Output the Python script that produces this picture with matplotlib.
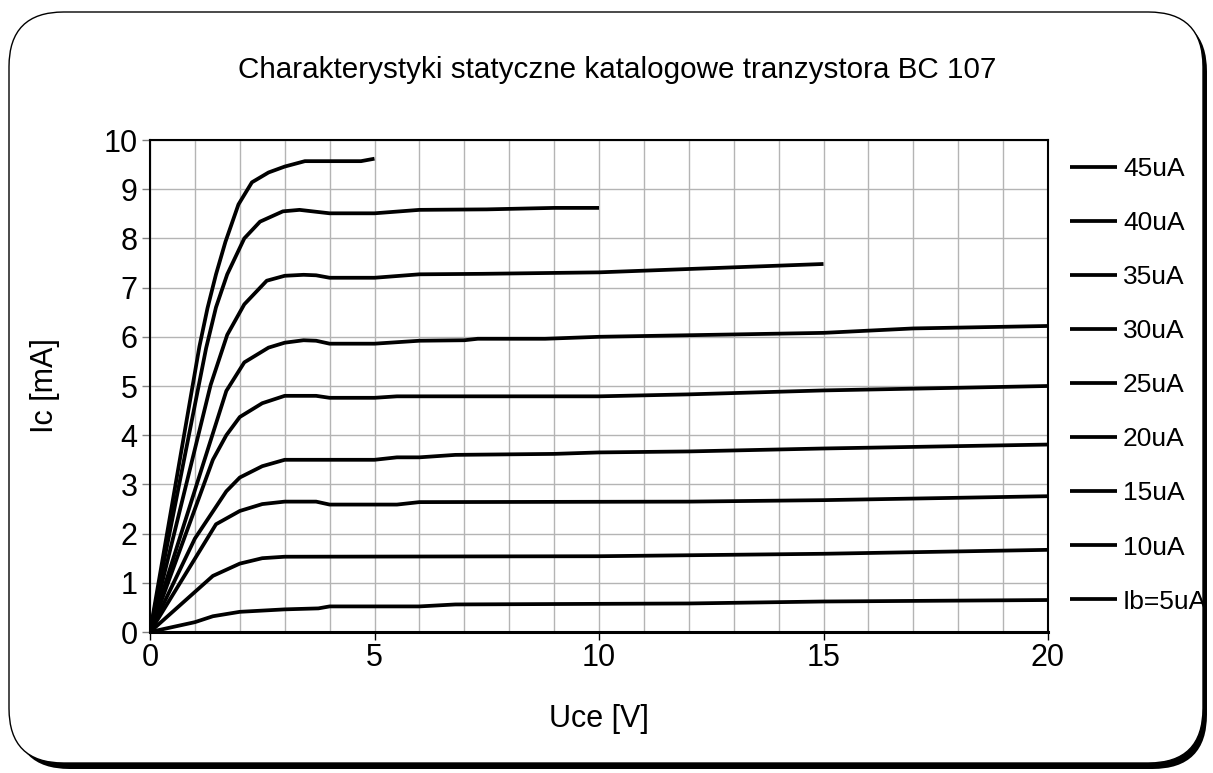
import matplotlib
matplotlib.use("Agg")
import matplotlib.pyplot as plt
from matplotlib.patches import FancyBboxPatch

plt.rcParams['font.family'] = ['Liberation Sans', 'DejaVu Sans']

# ---- data (Uce [V], Ic [mA]) ----
U45 = [0, 1.1, 1.28, 1.47, 1.68, 1.97, 2.27, 2.64, 3.0, 3.45, 4.7, 5.0]
I45 = [0, 5.8, 6.58, 7.27, 7.93, 8.69, 9.14, 9.34, 9.46, 9.57, 9.57, 9.62]

U40 = [0, 1.25, 1.47, 1.72, 2.1, 2.45, 2.96, 3.33, 4.0, 5.0, 6.0, 7.5, 9.0, 10.0]
I40 = [0, 5.77, 6.6, 7.27, 8.0, 8.34, 8.55, 8.58, 8.51, 8.51, 8.58, 8.59, 8.62, 8.62]

U35 = [0, 1.35, 1.72, 2.1, 2.6, 3.0, 3.42, 3.7, 4.0, 5.0, 6.0, 7.4, 10.0, 15.0]
I35 = [0, 5.02, 6.04, 6.66, 7.14, 7.24, 7.26, 7.25, 7.2, 7.2, 7.27, 7.28, 7.31, 7.48]

U30 = [0, 1.7, 2.1, 2.64, 3.0, 3.42, 3.7, 4.0, 5.0, 6.0, 7.0, 7.3, 8.8, 10.0, 15.0, 17.0, 20.0]
I30 = [0, 4.9, 5.48, 5.78, 5.88, 5.93, 5.92, 5.86, 5.86, 5.92, 5.93, 5.96, 5.96, 6.0, 6.08, 6.17, 6.22]

U25 = [0, 1.4, 1.7, 2.0, 2.5, 3.0, 3.7, 4.0, 5.0, 5.5, 10.0, 12.0, 15.0, 20.0]
I25 = [0, 3.5, 4.0, 4.37, 4.65, 4.8, 4.8, 4.76, 4.76, 4.79, 4.79, 4.83, 4.91, 5.0]

U20 = [0, 1.0, 1.7, 2.0, 2.5, 3.0, 5.0, 5.5, 6.0, 6.8, 9.0, 10.0, 12.0, 15.0, 20.0]
I20 = [0, 1.9, 2.86, 3.14, 3.37, 3.5, 3.5, 3.55, 3.55, 3.6, 3.62, 3.65, 3.67, 3.73, 3.81]

U15 = [0, 1.47, 2.0, 2.5, 3.0, 3.7, 4.0, 5.5, 6.0, 12.0, 15.0, 20.0]
I15 = [0, 2.19, 2.46, 2.6, 2.65, 2.65, 2.59, 2.59, 2.64, 2.65, 2.68, 2.76]

U10 = [0, 1.4, 2.0, 2.5, 3.0, 10.0, 12.0, 15.0, 20.0]
I10 = [0, 1.14, 1.39, 1.5, 1.53, 1.54, 1.56, 1.59, 1.67]

U5 = [0, 1.0, 1.4, 2.0, 3.0, 3.75, 4.0, 6.0, 6.8, 12.0, 15.0, 20.0]
I5 = [0, 0.2, 0.32, 0.41, 0.46, 0.48, 0.52, 0.52, 0.56, 0.58, 0.62, 0.65]

labels = ['45uA', '40uA', '35uA', '30uA', '25uA', '20uA', '15uA', '10uA', 'Ib=5uA']
series = [(U45, I45), (U40, I40), (U35, I35), (U30, I30), (U25, I25),
          (U20, I20), (U15, I15), (U10, I10), (U5, I5)]

title = 'Charakterystyki statyczne katalogowe tranzystora BC 107'
xlabel = 'Uce [V]'
ylabel = 'Ic [mA]'

W, H = 1213, 773
fig = plt.figure(figsize=(W / 100, H / 100), dpi=100)
fig.patch.set_facecolor('white')

# rounded frame with shadow
shadow = FancyBboxPatch((15 / W, 4 / H), 1192 / W, 752 / H,
                        boxstyle="round,pad=0,rounding_size=0.045",
                        transform=fig.transFigure, facecolor='black',
                        edgecolor='black', lw=0, mutation_aspect=W / H, zorder=0)
frame = FancyBboxPatch((9 / W, 10 / H), 1194 / W, 751 / H,
                       boxstyle="round,pad=0,rounding_size=0.045",
                       transform=fig.transFigure, facecolor='white',
                       edgecolor='black', lw=1.0, mutation_aspect=W / H, zorder=0.5)
fig.patches.extend([shadow, frame])

ax = fig.add_axes([150 / W, (H - 632) / H, (1048 - 150) / W, (632 - 140) / H])
ax.set_facecolor('none')
ax.set_zorder(2)

handles = []
for (u, i), lab in zip(series, labels):
    ln, = ax.plot(u, i, color='black', lw=2.7, solid_joinstyle='round',
                  solid_capstyle='butt', label=lab, zorder=3)
    handles.append(ln)

ax.set_xlim(0, 20)
ax.set_ylim(0, 10)
ax.set_xticks(range(0, 21, 5))
ax.set_yticks(range(0, 11, 1))
ax.set_xticks(range(0, 21, 1), minor=True)
ax.grid(True, which='both', color='#b4b4b4', lw=1.0, zorder=1)
ax.set_axisbelow(True)
ax.tick_params(axis='both', which='major', labelsize=22, length=6, width=1,
               direction='out', color='#808080')
ax.tick_params(axis='x', which='major', pad=2, color='black')
ax.tick_params(axis='y', which='major', pad=3)
ax.tick_params(axis='both', which='minor', length=0)
for s in ax.spines.values():
    s.set_color('black')
    s.set_linewidth(1.5)
ax.spines['bottom'].set_linewidth(2.2)

ax.set_xlabel(xlabel, fontsize=22, labelpad=22)
ax.set_ylabel(ylabel, fontsize=22, labelpad=31)

fig.text(617 / W, 1 - 70 / H, title, fontsize=21.3, ha='center', va='center')

leg = ax.legend(handles=handles, labels=labels, loc='upper left',
                bbox_to_anchor=(1070 / W, 1 - 157 / H), bbox_transform=fig.transFigure,
                frameon=False, fontsize=19, handlelength=1.78, handletextpad=0.23,
                labelspacing=1.14, borderpad=0, borderaxespad=0)

fig.savefig('out.png', dpi=100)
